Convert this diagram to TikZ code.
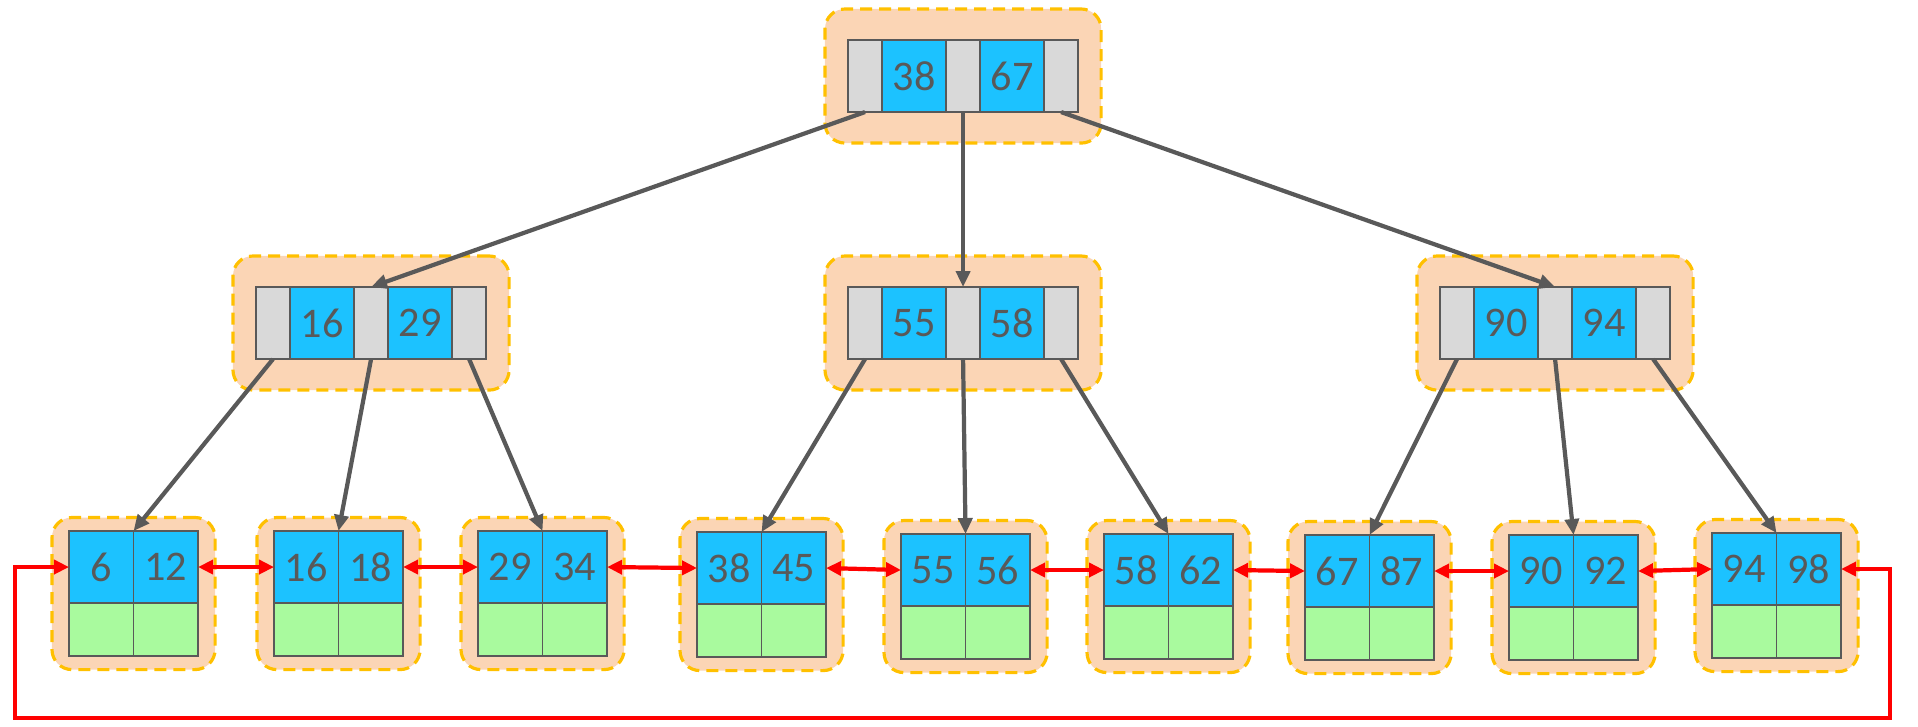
\documentclass[tikz,border=0pt]{standalone}
\usepackage{fontspec}
\setmainfont{Carlito}
\usetikzlibrary{arrows.meta,fit,backgrounds}

\definecolor{keyblue}{HTML}{1CC2FF}
\definecolor{ptrgrey}{HTML}{D9D9D9}
\definecolor{datagreen}{HTML}{A9FA9E}
\definecolor{pagepeach}{HTML}{FBD5B5}
\definecolor{pagegold}{HTML}{FFC000}
\definecolor{inkgrey}{HTML}{595959}

\begin{document}
\begin{tikzpicture}[
				x=0.01cm,y=-0.01cm,
				cell/.style={
					draw=inkgrey,
					line width=0.5pt,
					rectangle,
					anchor=north west,
					inner sep=0pt,
					outer sep=0pt,
					minimum height=0.72cm,
					text=inkgrey,
					font=\fontsize{12}{14}\selectfont
				},
				ptr/.style={cell,fill=ptrgrey,minimum width=0.34cm},
				key/.style={cell,fill=keyblue,minimum width=0.64cm},
				leafkey/.style={cell,fill=keyblue,minimum width=0.645cm},
				leafdata/.style={cell,fill=datagreen,minimum width=0.645cm,minimum height=0.53cm},
				page/.style={
					draw=pagegold,
					fill=pagepeach,
					line width=0.9pt,
					dash pattern=on 0.12cm off 0.07cm,
					rounded corners=0.2cm,
					inner xsep=0.23cm,
					inner ysep=0.31cm
				},
				leafpage/.style={page,inner xsep=0.17cm,inner ysep=0.135cm},
				relation/.style={-{Triangle[length=0.16cm,width=0.14cm]},draw=inkgrey,line width=1.2pt},
				link/.style={{Triangle[length=0.15cm,width=0.14cm]}-{Triangle[length=0.15cm,width=0.14cm]},draw=red,line width=1.2pt}
				]
				\useasboundingbox (0,0) rectangle (1918,726);
				
				% inner pages
				\foreach \n/\x/\y/\a/\b in {root/848/40/38/67, left/256/287/16/29, mid/848/287/55/58, right/1440/287/90/94} {
					\node[ptr] (\n-p0) at (\x,\y) {};
					\node[key] (\n-k1) at (\n-p0.north east) {\a};
					\node[ptr] (\n-p1) at (\n-k1.north east) {};
					\node[key] (\n-k2) at (\n-p1.north east) {\b};
					\node[ptr] (\n-p2) at (\n-k2.north east) {};
					\begin{scope}[on background layer]
						\node[page,fit=(\n-p0)(\n-p2)] (\n-page) {};
					\end{scope}
				}
				
				% leaf pages
				\foreach \i/\x/\y/\a/\b in {1/69/531/6/12, 2/274/531/16/18, 3/478/531/29/34, 4/697/532/38/45, 5/901/534/55/56, 6/1104/534/58/62, 7/1305/535/67/87, 8/1509/535/90/92, 9/1712/533/94/98} {
					\node[leafkey] (leaf\i-k1) at (\x,\y) {\a};
					\node[leafkey] (leaf\i-k2) at (leaf\i-k1.north east) {\b};
					\node[leafdata] (leaf\i-d1) at (leaf\i-k1.south west) {};
					\node[leafdata] (leaf\i-d2) at (leaf\i-k1.south east) {};
					\begin{scope}[on background layer]
						\node[leafpage,fit=(leaf\i-k1)(leaf\i-d2)] (leaf\i-page) {};
					\end{scope}
				}
				
				\draw[relation] (root-p0.south) -- (left-p1.north);
				\draw[relation] (root-p1.south) -- (mid-p1.north);
				\draw[relation] (root-p2.south) -- (right-p1.north);
				\foreach \s/\t in {left-p0/leaf1, left-p1/leaf2, left-p2/leaf3, mid-p0/leaf4, mid-p1/leaf5, mid-p2/leaf6, right-p0/leaf7, right-p1/leaf8, right-p2/leaf9}
					\draw[relation] (\s.south) -- (\t-k1.north east);
				
				% leaf chain
				\foreach \i/\j in {1/2, 2/3, 3/4, 4/5, 5/6, 6/7, 7/8, 8/9}
					\draw[link] (leaf\i-k2.east) -- (leaf\j-k1.west);
				\coordinate (loop-r) at (1890,718);
				\coordinate (loop-l) at (15,718);
				\draw[link] (leaf9-k2.east) -| (loop-r) -- (loop-l) |- (leaf1-k1.west);
			\end{tikzpicture}
\end{document}
